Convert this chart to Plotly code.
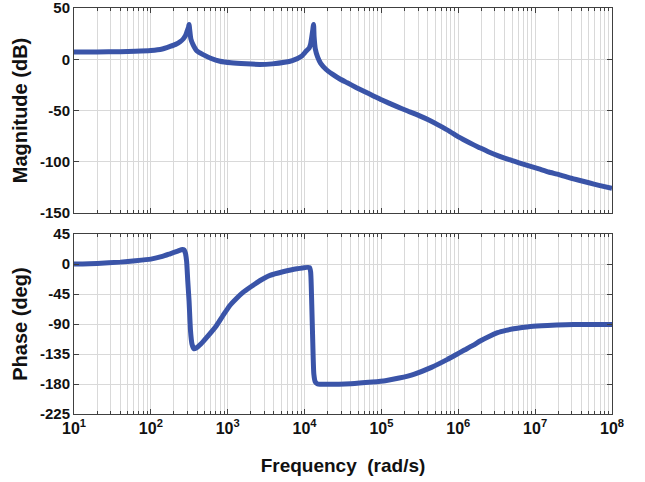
import plotly.graph_objects as go
from plotly.subplots import make_subplots

# ---- data ----
mag_freq = [10, 20, 40, 63, 100, 141, 178, 210, 240, 265, 282, 295, 309, 314, 320, 331, 355,
            398, 479, 600, 794, 1100, 1740, 2600, 3800, 5500, 6920, 9120, 10500, 11500,
            12000, 12300, 12700, 13100, 13300, 13800, 14800, 16200, 19100, 23000, 28500,
            36000, 46800, 60000, 77600, 100000, 157000, 220000, 309000, 420000, 562000,
            780000, 1.02e6, 1.4e6, 1.86e6, 2.5e6, 3.39e6, 4.6e6, 6.17e6, 8.3e6, 1.12e7,
            1.5e7, 2.04e7, 2.75e7, 3.72e7, 5e7, 6.76e7, 1e8]
mag_db = [7.0, 7.1, 7.4, 7.8, 8.5, 10, 12.5, 14.5, 17, 20, 23, 27, 31, 34, 29, 20, 14,
          8, 4.5, 1, -2, -3.5, -4.5, -5, -4.5, -3, -1.3, 3, 8, 11,
          15, 20, 27, 34, 22, 10, 2, -4, -10, -14.5, -19,
          -23, -27.5, -31.5, -35.5, -39.5, -46, -50.5, -55, -59.5, -64.5,
          -70.5, -76, -81.5, -86, -90.5, -94.5, -98, -101, -104, -107,
          -110, -112.5, -115.5, -118, -120.5, -123, -126]

phase_freq = [10, 20, 40, 63, 100, 141, 178, 224, 257, 272, 282, 292, 302, 314, 328, 343,
              363, 389, 447, 562, 713, 871, 1060, 1290, 1580, 2000, 2610, 3550, 5220, 7940,
              11600, 12000, 12400, 12800, 13200, 13800, 14800, 20000, 40000, 75900, 112000,
              170000, 269000, 447000, 724000, 933000, 1.2e6, 1.55e6, 1.95e6, 2.51e6, 3.24e6,
              4.17e6, 5.25e6, 6.76e6, 8.71e6, 1.45e7, 2.51e7, 3.98e7, 1e8]
phase_deg = [0, 1, 3, 5, 7.5, 11.5, 15.5, 19.5, 22, 21, 16, 4, -25, -55, -100, -120,
             -127, -126, -120, -107, -92.5, -77, -62.5, -52, -42.5, -34, -25, -17, -11.5, -7,
             -5, -12, -60, -120, -165, -177, -180, -180.5, -179.5, -177, -175,
             -171, -165, -155, -143, -136, -129, -122, -115, -108.5, -103,
             -99.5, -97, -95, -93.5, -92, -91, -90.5, -90.5]

x_tickvals = [1e1, 1e2, 1e3, 1e4, 1e5, 1e6, 1e7, 1e8]
x_ticktext = ["10<sup>1</sup>", "10<sup>2</sup>", "10<sup>3</sup>", "10<sup>4</sup>",
              "10<sup>5</sup>", "10<sup>6</sup>", "10<sup>7</sup>", "10<sup>8</sup>"]
mag_ticks = [50, 0, -50, -100, -150]
mag_ticktext = ["50", "0", "-50", "-100", "-150"]
phase_ticks = [45, 0, -45, -90, -135, -180, -225]
phase_ticktext = ["45", "0", "-45", "-90", "-135", "-180", "-225"]

minor_vals = [k * 10 ** d for d in range(1, 8) for k in range(2, 10)]

LINE = "#3A54A8"
GRID = "#D9D9D9"
AXC = "#404040"
FONT = "Liberation Sans, Arial, sans-serif"
TXT = "#111111"

fig = make_subplots(rows=2, cols=1)

fig.add_trace(go.Scatter(x=mag_freq, y=mag_db, mode="lines",
                         line=dict(color=LINE, width=5, shape="spline", smoothing=0.5),
                         showlegend=False), row=1, col=1)
fig.add_trace(go.Scatter(x=phase_freq, y=phase_deg, mode="lines",
                         line=dict(color=LINE, width=5, shape="spline", smoothing=0.5),
                         showlegend=False), row=2, col=1)

xcommon = dict(type="log", range=[1, 8], tickmode="array", tickvals=x_tickvals,
               showgrid=True, gridcolor=GRID, gridwidth=1,
               showline=True, linecolor=AXC, linewidth=1, mirror="ticks",
               ticks="inside", ticklen=5, tickcolor=AXC,
               minor=dict(tickmode="array", tickvals=minor_vals, showgrid=True,
                          gridcolor=GRID, gridwidth=1, ticks="inside", ticklen=3,
                          tickcolor=AXC),
               zeroline=False, automargin=False, ticklabeloverflow="allow")

ycommon = dict(tickmode="array", showgrid=True, gridcolor=GRID, showline=True,
               linecolor=AXC, linewidth=1, mirror="ticks", ticks="inside", ticklen=5,
               tickcolor=AXC, zeroline=False, automargin=False, ticklabeloverflow="allow",
               tickfont=dict(size=15, family=FONT, weight="bold", color=TXT))

fig.update_layout(
    width=645, height=482,
    margin=dict(l=74, r=33, t=8, b=68),
    paper_bgcolor="white", plot_bgcolor="white",
    font=dict(family=FONT, color=TXT, size=15),
    xaxis=dict(domain=[0, 1], anchor="y", showticklabels=False, **xcommon),
    xaxis2=dict(domain=[0, 1], anchor="y2", ticktext=x_ticktext, showticklabels=True,
                tickfont=dict(size=16, family=FONT, weight="bold", color=TXT),
                title=dict(text="<b>Frequency  (rad/s)</b>",
                           font=dict(size=19, family=FONT, color=TXT), standoff=22),
                **xcommon),
    yaxis=dict(domain=[0.495, 1.0], range=[-150, 50], tickvals=mag_ticks,
               ticktext=mag_ticktext,
               title=dict(text="<b>Magnitude (dB)</b>",
                          font=dict(size=20, family=FONT, color=TXT), standoff=6),
               **ycommon),
    yaxis2=dict(domain=[0, 0.443], range=[-225, 45], tickvals=phase_ticks,
                ticktext=phase_ticktext,
                title=dict(text="<b>Phase (deg)</b>",
                           font=dict(size=20, family=FONT, color=TXT), standoff=6),
                **ycommon),
)

fig.write_html("out.html")
